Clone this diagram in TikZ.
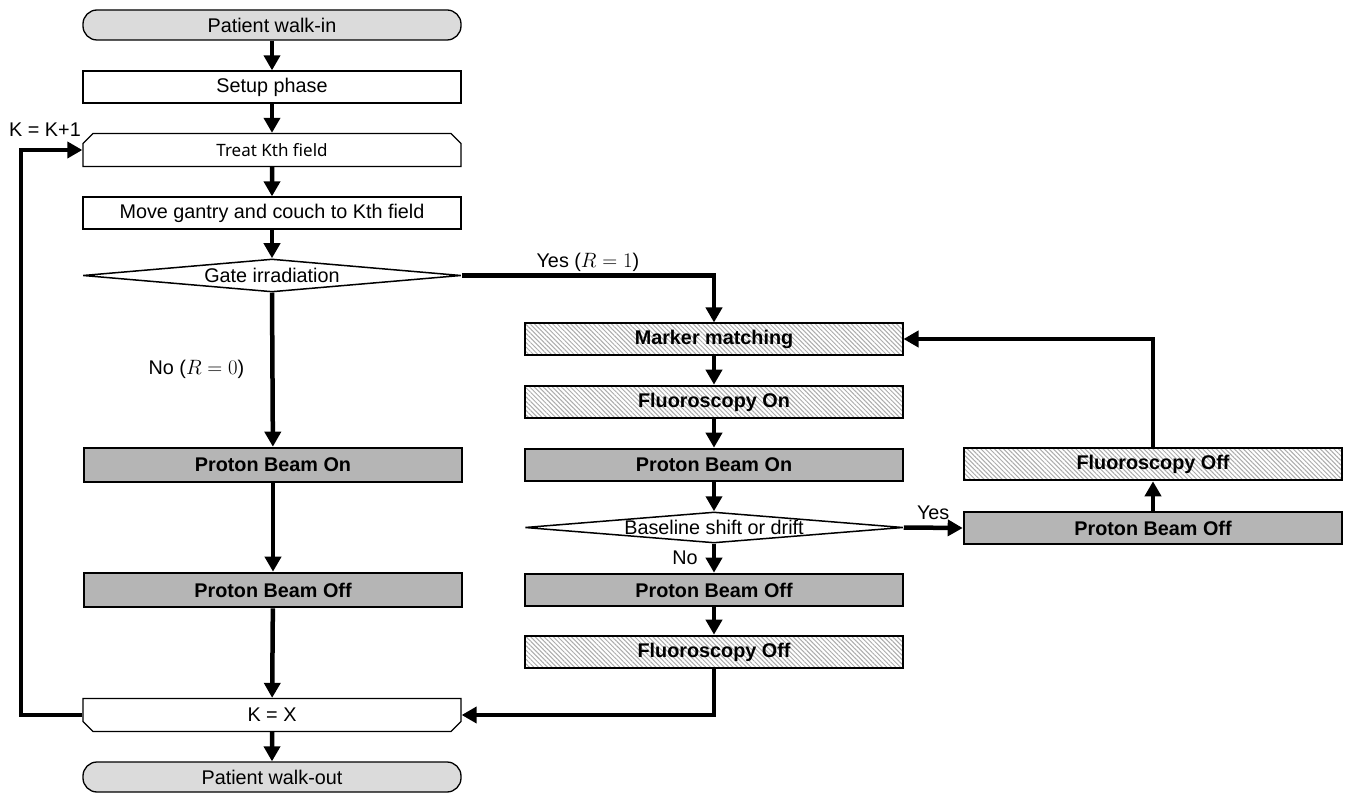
\documentclass[tikz,border=0pt]{standalone}
\usepackage{fontspec}
\setmainfont{Liberation Sans}
\newfontfamily\notofont{Noto Sans}
\usetikzlibrary{arrows.meta,positioning,shapes.geometric,shapes.misc,patterns.meta}
\newcommand\boxfont{\fontsize{19.8}{24}\selectfont}
\tikzset{
  boxbase/.style={draw=black,line width=1.3pt,minimum width=378pt,minimum height=32pt,
                  inner sep=0pt,align=center},
  plain/.style={boxbase,rectangle,fill=white},
  term/.style={boxbase,rectangle,rounded corners=14pt,fill=gray!28,minimum height=30pt},
  loopbox/.style={boxbase,chamfered rectangle,chamfered rectangle xsep=4pt,
                  chamfered rectangle ysep=6pt,fill=white,minimum height=33pt},
  beam/.style={boxbase,rectangle,line width=2.6pt,fill=gray!58,font=\boxfont\bfseries},
  fluo/.style={boxbase,rectangle,line width=2.6pt,font=\boxfont\bfseries,preaction={fill=white},
               pattern={Lines[angle=-45,distance=3.2pt,line width=1pt]},pattern color=gray!65},
  decision/.style={draw=black,line width=1.5pt,diamond,fill=white,inner sep=0pt,
                   minimum width=378pt,minimum height=33pt},
  arr/.style={-{Triangle[length=15pt,width=16pt]},line width=4.5pt},
  lbl/.style={inner sep=2pt}
}

\begin{document}
\begin{tikzpicture}[x=1pt,y=-1pt,font=\boxfont]
  \useasboundingbox (0,0) rectangle (1345,794);
  % main column
  \node[term] (walkin) at (272,25) {Patient walk-in};
  \node[plain] (setup) at (272,87) {Setup phase};
  \node[loopbox,chamfered rectangle corners={north west,north east},font=\notofont\fontsize{17}{20}\selectfont]
    (treat) at (272,150) {Treat Kth field};
  \node[plain] (move) at (272,213) {Move gantry and couch to Kth field};
  \node[decision,label={center:Gate irradiation}] (gate) at (272,275.5) {};
  \node[beam,minimum height=34pt] (onL) at (273,465) {Proton Beam On};
  \node[beam,minimum height=34pt] (offL) at (273,590) {Proton Beam Off};
  \node[loopbox,chamfered rectangle corners={south west,south east}] (kx) at (272,715) {K = X};
  \node[term] (walkout) at (272,777) {Patient walk-out};
  % gated column
  \node[fluo] (marker) at (714,339) {Marker matching};
  \node[fluo] (fluon) at (714,402) {Fluoroscopy On};
  \node[beam] (onR) at (714,465) {Proton Beam On};
  \node[decision,minimum height=31pt,label={center:Baseline shift or drift}] (drift) at (714,527.5) {};
  \node[beam] (offR) at (714,590) {Proton Beam Off};
  \node[fluo] (fluoffR) at (714,652) {Fluoroscopy Off};
  % correction column
  \node[beam] (offX) at (1153,528) {Proton Beam Off};
  \node[fluo] (fluoffX) at (1153,464) {Fluoroscopy Off};

  \draw[arr] (walkin) -- (setup);
  \draw[arr] (setup) -- (treat);
  \draw[arr] (treat) -- (move);
  \draw[arr] (move) -- (gate);
  \draw[arr] (gate.south) -- node[lbl,left=24pt]{No ($R=0$)} (onL);
  \draw[arr] (onL) -- (offL);
  \draw[arr] (offL) -- (kx);
  \draw[arr] (kx) -- (walkout);
  \draw[arr] (gate.east) -| node[lbl,above,pos=0.25]{Yes ($R=1$)} (marker.north);
  \draw[arr] (marker) -- (fluon);
  \draw[arr] (fluon) -- (onR);
  \draw[arr] (onR) -- (drift.north);
  \draw[arr] (drift.south) -- node[lbl,left=12pt]{No} (offR);
  \draw[arr] (offR) -- (fluoffR);
  \draw[arr] (fluoffR.south) |- (kx.east);
  \draw[arr] (drift.east) -- node[lbl,above=4pt]{Yes} (offX.west);
  \draw[arr] (offX) -- (fluoffX);
  \draw[arr] (fluoffX.north) |- (marker.east);
  % field loop
  \coordinate (loopcorner) at (21,715);
  \draw[arr] (kx.west) -- (loopcorner) |- (treat.west);
  \node[lbl] (kinc) at (45,130) {K = K+1};
\end{tikzpicture}
\end{document}
